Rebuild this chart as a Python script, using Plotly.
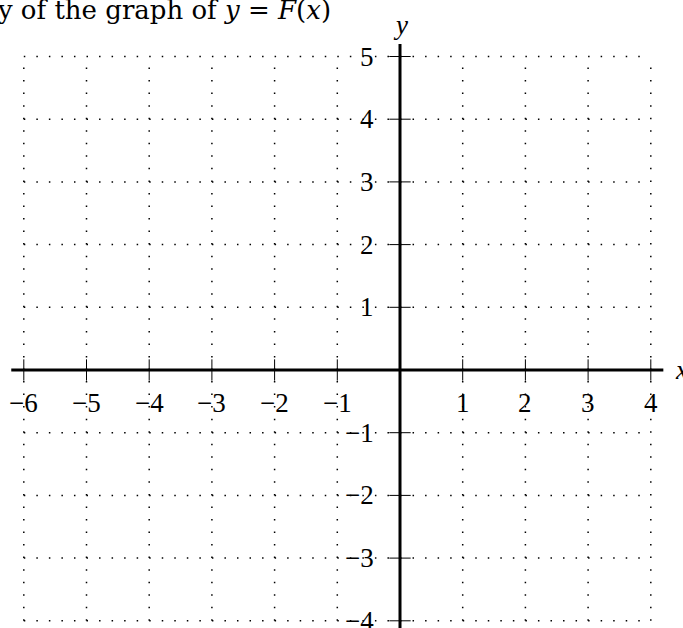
import plotly.graph_objects as go

# integer grid / tick positions
x_ticks = [-6, -5, -4, -3, -2, -1, 1, 2, 3, 4]
y_ticks = [-4, -3, -2, -1, 1, 2, 3, 4, 5]
x_grid = [-6, -5, -4, -3, -2, -1, 0, 1, 2, 3, 4]
y_grid = [-4, -3, -2, -1, 0, 1, 2, 3, 4, 5]
x_axis_ends = [-6.2, 4.2]
y_axis_ends = [-4.2, 5.2]

title_text = "A copy of the graph of <i>y</i> = <i>F</i>(<i>x</i>)"

FONT = "Liberation Serif"
FS = 27
UNIT = 62.7   # pixels per unit
X0, Y0 = 400, 370  # pixel position of the origin
TL = 0.17  # half tick length

fig = go.Figure()

# dotted grid
gx, gy = [], []
for v in x_grid:
    gx += [v, v, None]
    gy += [min(y_grid), max(y_grid), None]
for v in y_grid:
    gx += [min(x_grid), max(x_grid), None]
    gy += [v, v, None]
fig.add_trace(go.Scatter(x=gx, y=gy, mode="lines", hoverinfo="skip",
                         line=dict(color="black", width=1.5, dash="1.5px,11.04px")))

# ticks
tx, ty = [], []
for v in x_ticks:
    tx += [v, v, None]
    ty += [-TL, TL, None]
for v in y_ticks:
    tx += [-TL, TL, None]
    ty += [v, v, None]
fig.add_trace(go.Scatter(x=tx, y=ty, mode="lines", hoverinfo="skip",
                         line=dict(color="black", width=1)))

# axes
fig.add_trace(go.Scatter(x=x_axis_ends + [None, 0, 0], y=[0, 0, None] + y_axis_ends,
                         mode="lines", hoverinfo="skip",
                         line=dict(color="black", width=3)))

ann = []
for v in x_ticks:
    ann.append(dict(x=v, y=0, text=str(v).replace("-", "\u2212"), showarrow=False,
                    xanchor="center", yanchor="middle", yshift=-33))
for v in y_ticks:
    ann.append(dict(x=0, y=v, text=str(v).replace("-", "\u2212"), showarrow=False,
                    xanchor="right", yanchor="middle", xshift=-24))
ann.append(dict(x=0, y=5.2, text="<i>y</i>", showarrow=False,
                xanchor="center", yanchor="bottom", yshift=2))
ann.append(dict(x=4.2, y=0, text="<i>x</i>", showarrow=False,
                xanchor="left", yanchor="middle", xshift=10))
ann.append(dict(x=333 / 683, y=1 - 10 / 628, xref="paper", yref="paper", text=title_text,
                showarrow=False, xanchor="right", yanchor="middle",
                font=dict(family="DejaVu Serif", size=26)))

fig.update_layout(
    width=683, height=628,
    margin=dict(l=0, r=0, t=0, b=0),
    plot_bgcolor="white", paper_bgcolor="white",
    showlegend=False,
    font=dict(family=FONT, size=FS, color="black"),
    annotations=ann,
    xaxis=dict(range=[-X0 / UNIT, (683 - X0) / UNIT], visible=False, fixedrange=True),
    yaxis=dict(range=[-(628 - Y0) / UNIT, Y0 / UNIT], visible=False, fixedrange=True),
)

fig.write_html("out.html", config={"displayModeBar": False},
               post_script="document.body.style.margin='0';")
